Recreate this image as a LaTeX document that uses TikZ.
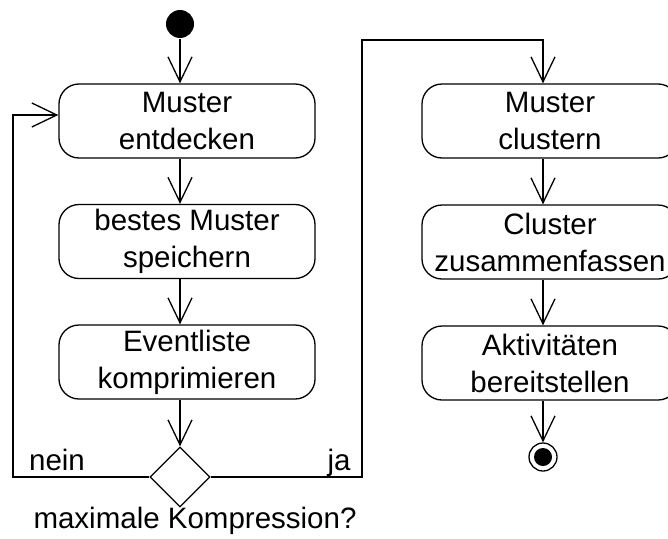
\documentclass[tikz,border=0pt]{standalone}
\usepackage{fontspec}
\setmainfont{Liberation Sans}
\usetikzlibrary{arrows.meta,shapes.geometric}
\begin{document}
\begin{tikzpicture}[x=1pt,y=-1pt,line width=1.3pt,
  act/.style={draw,rounded corners=20pt,minimum width=256pt,minimum height=74pt,inner sep=0pt,align=center,font=\fontsize{29.5}{37}\selectfont},
  lbl/.style={font=\fontsize{29.5}{37}\selectfont,inner sep=0pt,anchor=base},
  arr/.style={-{Straight Barb[length=25pt,width=24pt]}},
  dec/.style={draw,diamond,minimum width=60pt,minimum height=60pt,inner sep=0pt}]
\useasboundingbox (0,0) rectangle (668,538);
\node[circle,fill,inner sep=0pt,minimum size=28pt] (init) at (180,24) {};
\node[act] (b1) at (187,121) {Muster\\entdecken};
\node[act] (b2) at (187,241.5) {bestes Muster\\speichern};
\node[act] (b3) at (187,362) {Eventliste\\komprimieren};
\node[dec] (d) at (180,477) {};
\node[lbl] (nein) at (57,470) {nein};
\node[lbl] (ja) at (339,470) {ja};
\node[lbl] (q) at (195,528) {maximale Kompression?};
\node[act] (c1) at (550,121) {Muster\\clustern};
\node[act] (c2) at (550,242) {Cluster\\zusammenfassen};
\node[act] (c3) at (550,363) {Aktivitäten\\bereitstellen};
\node[circle,draw,inner sep=0pt,minimum size=28pt] (fin) at (543,457) {};
\node[circle,fill,inner sep=0pt,minimum size=18pt] at (fin) {};
\coordinate (lx) at (13,0);
\coordinate (rx) at (362,0);
\coordinate (top) at (0,40);
\draw[arr] (init.south) -- (b1.north -| init);
\draw[arr] (b1.south -| init) -- (b2.north -| init);
\draw[arr] (b2.south -| init) -- (b3.north -| init);
\draw[arr] (b3.south -| init) -- (d.north);
\draw[arr] (d.west) -- (d.west -| lx) |- ([yshift=6pt]b1.west);
\draw[arr] (d.east) -- (d.east -| rx) -- (rx |- top) -- (top -| fin) -- (c1.north -| fin);
\draw[arr] (c1.south -| fin) -- (c2.north -| fin);
\draw[arr] (c2.south -| fin) -- (c3.north -| fin);
\draw[arr] (c3.south -| fin) -- (fin.north);
\end{tikzpicture}
\end{document}
